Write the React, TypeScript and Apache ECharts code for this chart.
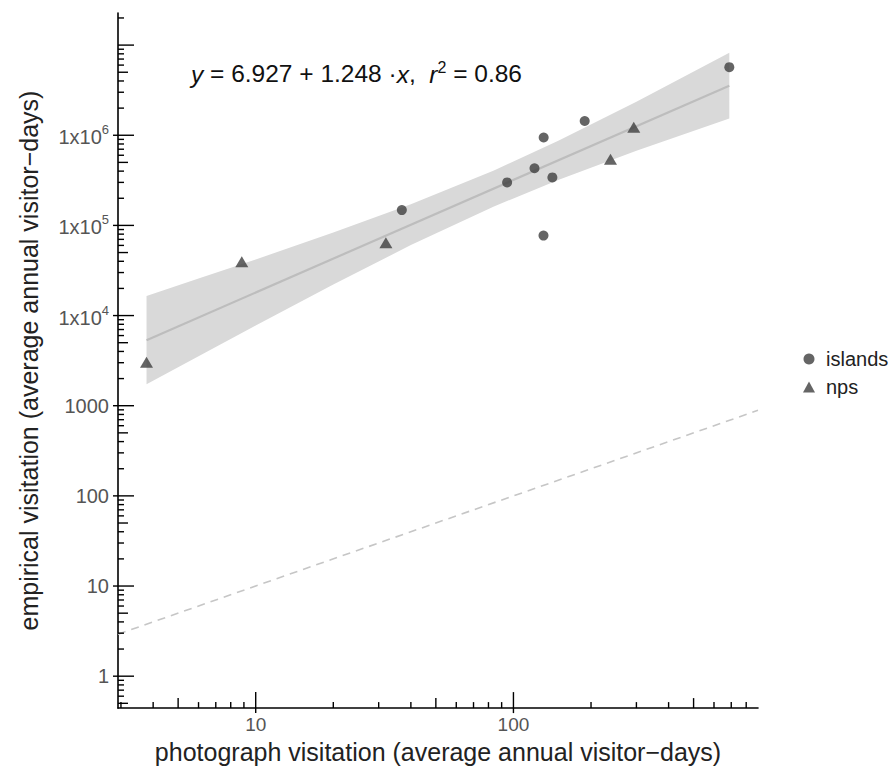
import React, { useEffect, useRef } from "react";
import * as echarts from "echarts";

// ---- data ----
const islandsX = [36.9, 94.5, 120.7, 130.8, 131, 141.6, 189, 688];
const islandsY = [148000, 300000, 431000, 77100, 944000, 341000, 1440000, 5690000];
const npsX = [3.77, 8.83, 32.0, 238, 293];
const npsY = [3027, 39500, 64100, 543000, 1225000];

// fitted line (log-log straight line), endpoints
const fitX = [3.77, 688];
const fitY = [5330, 3550000];

// confidence band edges
const bandX = [3.77, 6, 10, 20, 40, 84, 150, 300, 688];
const bandUpper = [16530, 25700, 41900, 83200, 171600, 407000, 873000, 2357000, 8200000];
const bandLower = [1725, 3540, 7760, 22090, 60500, 162300, 321000, 672000, 1533000];

// 1:1 reference line
const refX = [2.922, 889];
const refY = [2.922, 889];

// axes
const X_MIN = 2.922;
const X_MAX = 889;
const Y_MIN = 0.4426;
const Y_MAX = 22700000;
const xMajorTicks = [10, 100];
const yMajorTicks = [1, 10, 100, 1000, 10000, 100000, 1000000, 10000000];
const yLabelled = [1, 10, 100, 1000, 10000, 100000, 1000000];

const minorList = (lo: number, hi: number, eLo: number, eHi: number) => {
  const out: number[][] = [];
  for (let e = eLo; e <= eHi; e++) {
    for (let m = 2; m <= 9; m++) {
      const v = m * Math.pow(10, e);
      if (v > lo && v < hi) out.push([v, m === 5 ? 1 : 0]);
    }
  }
  return out;
};
const xMinor = minorList(X_MIN, X_MAX, 0, 2);
const yMinor = minorList(Y_MIN, Y_MAX, -1, 7);

const supDigits: Record<number, string> = { 10000: "4", 100000: "5", 1000000: "6" };

export default function App() {
  const ref = useRef<HTMLDivElement>(null);
  useEffect(() => {
    document.body.style.margin = "0";
    const chart = echarts.init(ref.current!, null, { renderer: "svg" });
    const font = "Liberation Sans, Arial, sans-serif";

    // tick data: kind 0 minor, 1 medium, 2 major, 3 major labelled
    const xTickData = [
      ...xMinor.map((d) => ({ value: [d[0], 1, d[1]] })),
      ...xMajorTicks.map((v) => ({ value: [v, 1, 3] })),
    ];
    const yTickData = [
      ...yMinor.map((d) => ({ value: [10, d[0], d[1]] })),
      ...yMajorTicks.map((v) => ({ value: [10, v, yLabelled.includes(v) ? 3 : 2] })),
    ];
    const lenOf = (k: number) => (k === 0 ? 6 : k === 1 ? 10 : 16);
    const outOf = (k: number) => (k === 3 ? 5 : 0);

    const option: any = {
      animation: false,
      textStyle: { fontFamily: font },
      grid: { left: 118, right: 134, top: 13, bottom: 58 },
      legend: {
        orient: "vertical",
        left: 798,
        top: 344,
        itemWidth: 12,
        itemHeight: 11,
        itemGap: 8,
        textStyle: { fontSize: 20, lineHeight: 20, color: "#222", fontFamily: font, padding: [0, 0, 0, 6] },
        data: [
          { name: "islands", icon: "circle" },
          { name: "nps", icon: "triangle" },
        ],
      },
      xAxis: {
        type: "log",
        logBase: 10,
        min: X_MIN,
        max: X_MAX,
        name: "photograph visitation (average annual visitor\u2212days)",
        nameLocation: "middle",
        nameGap: 24,
        nameTextStyle: { fontSize: 25, color: "#222", fontFamily: font },
        axisLine: { lineStyle: { color: "#000", width: 1.6 } },
        axisTick: { show: false },
        splitLine: { show: false },
        axisLabel: {
          fontSize: 19,
          color: "#555",
          margin: 7,
          showMinLabel: false,
          showMaxLabel: false,
          fontFamily: font,
          formatter: (v: number) => {
            const r = Math.round(v);
            return xMajorTicks.includes(r) ? String(r) : "";
          },
        },
      },
      yAxis: {
        type: "log",
        logBase: 10,
        min: Y_MIN,
        max: Y_MAX,
        name: "empirical visitation (average annual visitor\u2212days)",
        nameLocation: "middle",
        nameGap: 77,
        nameTextStyle: { fontSize: 25, color: "#222", fontFamily: font },
        axisLine: { lineStyle: { color: "#000", width: 1.6 } },
        axisTick: { show: false },
        splitLine: { show: false },
        axisLabel: {
          fontSize: 20,
          color: "#555",
          margin: 9,
          showMinLabel: false,
          showMaxLabel: false,
          fontFamily: font,
          rich: {
            b: { fontSize: 20, color: "#555", lineHeight: 24, verticalAlign: "bottom", fontFamily: font },
            s: { fontSize: 13, color: "#555", lineHeight: 14, verticalAlign: "top", fontFamily: font },
          },
          formatter: (v: number) => {
            const r = Math.round(v);
            if (!yLabelled.includes(r)) return "";
            if (supDigits[r]) return `{b|1x10}{s|${supDigits[r]}}`;
            return String(r);
          },
        },
      },
      graphic: [
        {
          type: "text",
          left: 191,
          top: 59,
          z: 100,
          style: {
            text: "{i|y} = 6.927 + 1.248 \u00b7{i|x},  {i|r}{s|2} = 0.86",
            fill: "#111",
            font: `24.5px ${font}`,
            rich: {
              i: { fontStyle: "italic", fontSize: 24.5, fill: "#111", lineHeight: 28, verticalAlign: "bottom", fontFamily: font },
              s: { fontSize: 16, fill: "#111", lineHeight: 16, verticalAlign: "top", fontFamily: font },
            },
          },
        },
      ],
      series: [
        {
          type: "custom",
          name: "band",
          silent: true,
          z: 1,
          data: bandX.map((x, i) => [x, bandUpper[i], bandLower[i]]),
          renderItem: (params: any, api: any) => {
            if (params.dataIndex !== 0) return null;
            const up = bandX.map((x, i) => api.coord([x, bandUpper[i]]));
            const lo = bandX.map((x, i) => api.coord([x, bandLower[i]])).reverse();
            return {
              type: "polygon",
              shape: { points: [...up, ...lo] },
              style: { fill: "#d9d9d9", stroke: "none" },
            };
          },
        },
        {
          type: "line",
          name: "ref",
          data: refX.map((x, i) => [x, refY[i]]),
          showSymbol: false,
          symbol: "none",
          silent: true,
          z: 2,
          lineStyle: { color: "#c6c6c6", width: 1.6, type: [8, 6] },
        },
        {
          type: "line",
          name: "fit",
          data: fitX.map((x, i) => [x, fitY[i]]),
          showSymbol: false,
          symbol: "none",
          silent: true,
          z: 3,
          lineStyle: { color: "#bdbdbd", width: 2.2 },
        },
        {
          type: "scatter",
          name: "islands",
          symbol: "circle",
          symbolSize: 10,
          z: 5,
          itemStyle: { color: "#3f3f3f" },
          data: islandsX.map((x, i) => [x, islandsY[i]]),
        },
        {
          type: "scatter",
          name: "nps",
          symbol: "triangle",
          symbolSize: [13, 11],
          z: 5,
          itemStyle: { color: "#3f3f3f" },
          data: npsX.map((x, i) => [x, npsY[i]]),
        },
        {
          type: "custom",
          name: "xticks",
          silent: true,
          z: 10,
          clip: false,
          data: xTickData,
          renderItem: (params: any, api: any) => {
            const v = api.value(0);
            const k = api.value(2);
            const p = api.coord([v, Y_MIN]);
            return {
              type: "line",
              shape: { x1: p[0], y1: p[1] + outOf(k), x2: p[0], y2: p[1] - lenOf(k) },
              style: { stroke: "#000", lineWidth: 1.4 },
            };
          },
        },
        {
          type: "custom",
          name: "yticks",
          silent: true,
          z: 10,
          clip: false,
          data: yTickData,
          renderItem: (params: any, api: any) => {
            const v = api.value(1);
            const k = api.value(2);
            const p = api.coord([X_MIN, v]);
            return {
              type: "line",
              shape: { x1: p[0] - outOf(k), y1: p[1], x2: p[0] + lenOf(k), y2: p[1] },
              style: { stroke: "#000", lineWidth: 1.4 },
            };
          },
        },
      ],
    };
    chart.setOption(option);
    return () => chart.dispose();
  }, []);
  return (
    <div
      ref={ref}
      style={{ position: "fixed", left: 0, top: 0, width: 892, height: 769, background: "#fff" }}
    />
  );
}
